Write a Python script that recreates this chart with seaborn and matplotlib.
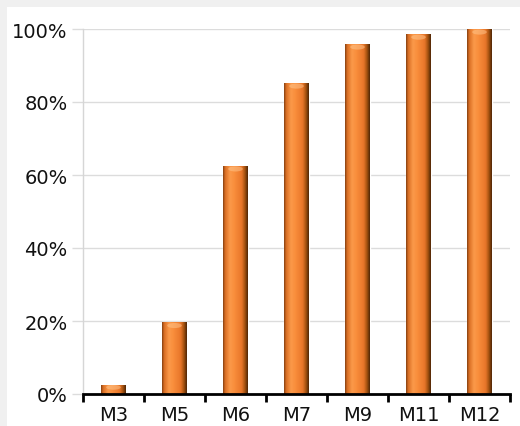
import numpy as np
import pandas as pd
import matplotlib
matplotlib.use("Agg")
import matplotlib.pyplot as plt
from matplotlib.colors import LinearSegmentedColormap
from matplotlib.patches import Rectangle, Ellipse
import seaborn as sns

# Cumulative share reached by each milestone
milestones = ["M3", "M5", "M6", "M7", "M9", "M11", "M12"]
share = [0.026, 0.196, 0.625, 0.852, 0.959, 0.986, 1.0]
y_ticks = [0, 0.2, 0.4, 0.6, 0.8, 1.0]
y_tick_labels = ["0%", "20%", "40%", "60%", "80%", "100%"]

df = pd.DataFrame({"milestone": milestones, "share": share})

sns.set_theme(style="white")
plt.rcParams["font.family"] = ["DejaVu Sans"]

fig = plt.figure(figsize=(5.2, 4.27), dpi=100)
fig.patch.set_facecolor("#f0f0f0")
fig.patches.append(Rectangle((7 / 520, 0), 1, 1 - 8 / 427, transform=fig.transFigure,
                             facecolor="white", edgecolor="none", zorder=-10))

ax = fig.add_axes([83 / 520, 1 - 395 / 427, (510 - 83) / 520, (395 - 30) / 427])
ax.set_facecolor("none")

sns.barplot(data=df, x="milestone", y="share", color="#f5862e", width=0.4,
            saturation=1, ax=ax, zorder=3)

# cylinder-style shading across each bar
shade = LinearSegmentedColormap.from_list("shade", [
    (0.00, "#7a3c10"), (0.08, "#d86c22"), (0.28, "#fb9a4a"),
    (0.45, "#f98e3c"), (0.75, "#e8762a"), (0.88, "#a4520f"), (1.00, "#4a2406")])
grad = np.linspace(0, 1, 256).reshape(1, -1)
for patch in ax.patches:
    x0, y0 = patch.get_x(), patch.get_y()
    w, h = patch.get_width(), patch.get_height()
    im = ax.imshow(grad, cmap=shade, aspect="auto", extent=(x0, x0 + w, y0, y0 + h),
                   zorder=4, interpolation="bicubic")
    im.set_clip_path(patch)
    # lighter cap at the top of the bar
    cap_h = min(0.014, h * 0.5)
    cap = Ellipse((x0 + w / 2, y0 + h - cap_h * 0.6), w * 0.6, cap_h,
                  facecolor="#ffc890", edgecolor="none", alpha=0.5, zorder=5)
    ax.add_patch(cap)
    cap.set_clip_path(patch)

ax.set_xlim(-0.5, len(milestones) - 0.5)
ax.set_ylim(0, 1.0)
ax.set_yticks(y_ticks)
ax.set_yticklabels(y_tick_labels)
ax.set_xlabel("")
ax.set_ylabel("")
ax.grid(axis="y", color="#dcdcdc", linewidth=1, zorder=0)
ax.set_axisbelow(True)

for side in ("top", "right"):
    ax.spines[side].set_visible(False)
ax.spines["left"].set_color("#d6d6d6")
ax.spines["left"].set_linewidth(1)
ax.spines["bottom"].set_color("black")
ax.spines["bottom"].set_linewidth(2)
ax.spines["bottom"].set_zorder(6)

ax.tick_params(axis="y", length=8, width=1, color="#dcdcdc", labelsize=14,
               labelcolor="#111111", pad=3, left=True)
ax.set_xticks(np.arange(-0.5, len(milestones)), minor=True)
ax.tick_params(axis="x", which="minor", length=6, width=2, color="black", bottom=True)
ax.tick_params(axis="x", which="major", length=0, labelsize=14, labelcolor="#111111", pad=8)

fig.savefig("out.png", dpi=100, facecolor=fig.get_facecolor())
